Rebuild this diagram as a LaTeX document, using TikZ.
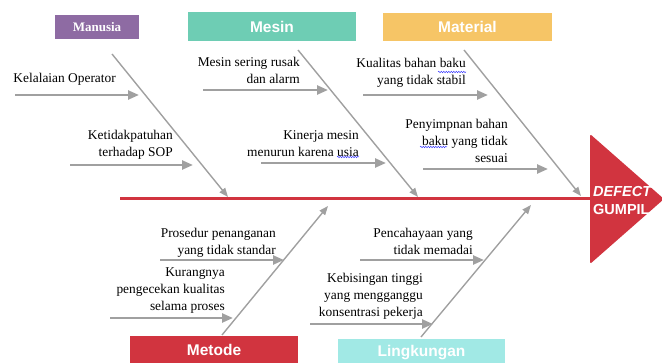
\documentclass[tikz,border=0pt]{standalone}
\usepackage{fontspec}
\setmainfont{Liberation Serif}
\setsansfont{Liberation Sans}
\usetikzlibrary{arrows.meta,decorations.pathmorphing}
\definecolor{manpurple}{HTML}{8E6BA3}
\definecolor{mesteal}{HTML}{6ECDB4}
\definecolor{matyellow}{HTML}{F6C566}
\definecolor{metred}{HTML}{D1343F}
\definecolor{lincyan}{HTML}{A1E9E5}
\definecolor{bonegray}{HTML}{A0A0A0}

\begin{document}
\begin{tikzpicture}[x=1pt, y=-1pt,
  cat/.style={rectangle, fill=#1, text=white, inner sep=0pt,
              font=\sffamily\bfseries\fontsize{15.5}{18}\selectfont},
  cause/.style={anchor=east, align=right, inner sep=0pt,
                font=\fontsize{13.4}{17}\selectfont},
  bone/.style={draw=bonegray, line width=1.4pt, -{Triangle[length=9pt,width=7pt]}},
  twig/.style={draw=bonegray, line width=2.4pt, -{Triangle[length=11pt,width=9pt]}},
  spine/.style={draw=metred, line width=3pt},
  spell/.style={draw=blue!75, line width=0.5pt, decorate,
                decoration={snake, amplitude=0.7pt, segment length=2.5pt}}
]
  \useasboundingbox (0,0) rectangle (662,363);
  \clip (0,0) rectangle (662,363);

  \node[cat=manpurple, minimum width=84pt, minimum height=24pt,
        font=\rmfamily\bfseries\fontsize{13}{15}\selectfont] (manusia) at (97,27) {Manusia};
  \node[cat=mesteal, minimum width=168pt, minimum height=29pt] (mesin) at (272,26.5) {Mesin};
  \node[cat=matyellow, minimum width=169pt, minimum height=28pt] (material) at (467.5,27) {Material};
  \node[cat=metred, minimum width=168pt, minimum height=28pt] (metode) at (214,350) {Metode};
  \node[cat=lincyan, minimum width=167pt, minimum height=28pt] (lingkungan) at (421.5,353) {Lingkungan};

  \fill[metred, rounded corners=1.5pt] (590,134) -- (664,199) -- (590,264) -- cycle;
  \node[anchor=west, align=left, inner sep=0pt, text=white,
        font=\sffamily\bfseries\fontsize{14.5}{18}\selectfont] (defect) at (593,201)
        {\itshape DEFECT\\GUMPIL};

  \coordinate (tail) at (120,199);
  \coordinate (head) at (591,199);
  \draw[spine] (tail) -- (head);

  \coordinate (manS) at (112,54);  \coordinate (manE) at (228,197);
  \coordinate (mesS) at (298,50);  \coordinate (mesE) at (418,197);
  \coordinate (matS) at (464,50);  \coordinate (matE) at (581,196);
  \coordinate (metS) at (222,335); \coordinate (metE) at (328,206);
  \coordinate (linS) at (421,337); \coordinate (linE) at (531,205);
  \draw[bone] (manS) -- (manE);
  \draw[bone] (mesS) -- (mesE);
  \draw[bone] (matS) -- (matE);
  \draw[bone] (metS) -- (metE);
  \draw[bone] (linS) -- (linE);

  \coordinate (man1S) at (15,95);   \coordinate (man1E) at (139,95);
  \coordinate (man2S) at (70,165);  \coordinate (man2E) at (193,165);
  \coordinate (mes1S) at (203,90);  \coordinate (mes1E) at (328,90);
  \coordinate (mes2S) at (261,163); \coordinate (mes2E) at (386,163);
  \coordinate (mat1S) at (363,95);  \coordinate (mat1E) at (488,95);
  \coordinate (mat2S) at (423,169); \coordinate (mat2E) at (548,169);
  \coordinate (met1S) at (160,260); \coordinate (met1E) at (284,260);
  \coordinate (met2S) at (110,318); \coordinate (met2E) at (233,318);
  \coordinate (lin1S) at (360,260); \coordinate (lin1E) at (484,260);
  \coordinate (lin2S) at (310,324); \coordinate (lin2E) at (433,324);
  \draw[twig] (man1S) -- (man1E);
  \draw[twig] (man2S) -- (man2E);
  \draw[twig] (mes1S) -- (mes1E);
  \draw[twig] (mes2S) -- (mes2E);
  \draw[twig] (mat1S) -- (mat1E);
  \draw[twig] (mat2S) -- (mat2E);
  \draw[twig] (met1S) -- (met1E);
  \draw[twig] (met2S) -- (met2E);
  \draw[twig] (lin1S) -- (lin1E);
  \draw[twig] (lin2S) -- (lin2E);

  \node[cause] (man1) at (116,79) {Kelalaian Operator};
  \node[cause] (man2) at (173,145) {Ketidakpatuhan\\terhadap SOP};
  \node[cause] (mes1) at (300,70) {Mesin sering rusak\\dan alarm};
  \node[cause] (mes2) at (359,144) {Kinerja mesin\\menurun karena usia};
  \node[cause] (mat1) at (466,72.5) {Kualitas bahan baku\\yang tidak stabil};
  \node[cause] (mat2) at (508,141) {Penyimpnan bahan\\baku yang tidak\\sesuai};
  \node[cause] (met1) at (276,242.5) {Prosedur penanganan\\yang tidak standar};
  \node[cause] (met2) at (225,290.5) {Kurangnya\\pengecekan kualitas\\selama proses};
  \node[cause] (lin1) at (473,241.5) {Pencahayaan yang\\tidak memadai};
  \node[cause] (lin2) at (423,296) {Kebisingan tinggi\\yang mengganggu\\konsentrasi pekerja};

  \draw[spell] (438,72) -- (466,72);
  \draw[spell] (420,147) -- (447,147);
  \draw[spell] (337,157) -- (359,157);
\end{tikzpicture}
\end{document}
